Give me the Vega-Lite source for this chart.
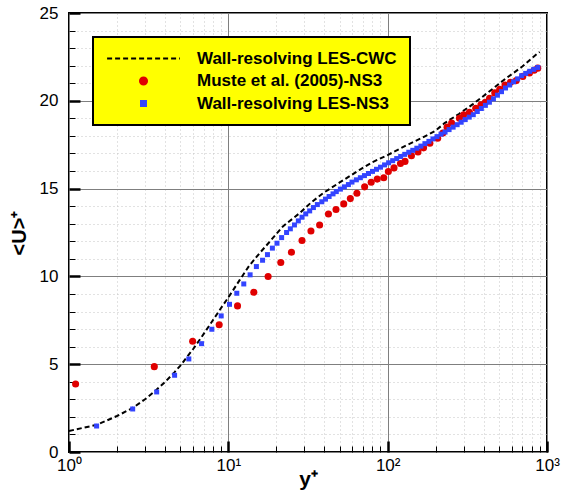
{
  "$schema": "https://vega.github.io/schema/vega-lite/v6.json",
  "width": 478,
  "height": 439,
  "autosize": {"type": "none"},
  "padding": {"left": 69, "top": 13, "right": 14, "bottom": 41},
  "background": "#ffffff",
  "config": {
    "font": "Liberation Sans",
    "view": {"stroke": "#000000", "strokeWidth": 2},
    "axis": {
      "domain": false,
      "labelFont": "Liberation Sans",
      "labelFontSize": 16,
      "labelColor": "#000000",
      "titleFont": "Liberation Sans",
      "titleFontWeight": "bold",
      "titleColor": "#000000",
      "tickColor": "#000000",
      "gridOpacity": 1
    }
  },
  "datasets": {
    "cwc": [
      {"series": "Wall-resolving LES-CWC", "yp": 1.0, "U": 1.2},
      {"series": "Wall-resolving LES-CWC", "yp": 1.5, "U": 1.55},
      {"series": "Wall-resolving LES-CWC", "yp": 2.0, "U": 2.05},
      {"series": "Wall-resolving LES-CWC", "yp": 2.5, "U": 2.5},
      {"series": "Wall-resolving LES-CWC", "yp": 3.0, "U": 3.0},
      {"series": "Wall-resolving LES-CWC", "yp": 3.5, "U": 3.5},
      {"series": "Wall-resolving LES-CWC", "yp": 4.0, "U": 3.98},
      {"series": "Wall-resolving LES-CWC", "yp": 4.6, "U": 4.55},
      {"series": "Wall-resolving LES-CWC", "yp": 5.0, "U": 4.92},
      {"series": "Wall-resolving LES-CWC", "yp": 5.65, "U": 5.55},
      {"series": "Wall-resolving LES-CWC", "yp": 6.0, "U": 5.85},
      {"series": "Wall-resolving LES-CWC", "yp": 6.8, "U": 6.55},
      {"series": "Wall-resolving LES-CWC", "yp": 8.0, "U": 7.5},
      {"series": "Wall-resolving LES-CWC", "yp": 9.0, "U": 8.2},
      {"series": "Wall-resolving LES-CWC", "yp": 10.0, "U": 8.8},
      {"series": "Wall-resolving LES-CWC", "yp": 11.8, "U": 9.8},
      {"series": "Wall-resolving LES-CWC", "yp": 13.5, "U": 10.6},
      {"series": "Wall-resolving LES-CWC", "yp": 15.8, "U": 11.35},
      {"series": "Wall-resolving LES-CWC", "yp": 18.2, "U": 11.98},
      {"series": "Wall-resolving LES-CWC", "yp": 22.0, "U": 12.85},
      {"series": "Wall-resolving LES-CWC", "yp": 28.0, "U": 13.6},
      {"series": "Wall-resolving LES-CWC", "yp": 33.0, "U": 14.2},
      {"series": "Wall-resolving LES-CWC", "yp": 39.3, "U": 14.74},
      {"series": "Wall-resolving LES-CWC", "yp": 50.0, "U": 15.35},
      {"series": "Wall-resolving LES-CWC", "yp": 66.7, "U": 16.07},
      {"series": "Wall-resolving LES-CWC", "yp": 80.0, "U": 16.5},
      {"series": "Wall-resolving LES-CWC", "yp": 100.5, "U": 16.92},
      {"series": "Wall-resolving LES-CWC", "yp": 130.0, "U": 17.45},
      {"series": "Wall-resolving LES-CWC", "yp": 162.6, "U": 17.87},
      {"series": "Wall-resolving LES-CWC", "yp": 200.0, "U": 18.3},
      {"series": "Wall-resolving LES-CWC", "yp": 227.6, "U": 18.73},
      {"series": "Wall-resolving LES-CWC", "yp": 280.0, "U": 19.25},
      {"series": "Wall-resolving LES-CWC", "yp": 343.0, "U": 19.81},
      {"series": "Wall-resolving LES-CWC", "yp": 430.0, "U": 20.5},
      {"series": "Wall-resolving LES-CWC", "yp": 555.0, "U": 21.29},
      {"series": "Wall-resolving LES-CWC", "yp": 700.0, "U": 21.95},
      {"series": "Wall-resolving LES-CWC", "yp": 863.0, "U": 22.66},
      {"series": "Wall-resolving LES-CWC", "yp": 900.0, "U": 22.78}
    ],
    "muste": [
      {"series": "Muste et al. (2005)-NS3", "yp": 1.10, "U": 3.87},
      {"series": "Muste et al. (2005)-NS3", "yp": 3.43, "U": 4.86},
      {"series": "Muste et al. (2005)-NS3", "yp": 5.97, "U": 6.31},
      {"series": "Muste et al. (2005)-NS3", "yp": 8.76, "U": 7.25},
      {"series": "Muste et al. (2005)-NS3", "yp": 11.42, "U": 8.32},
      {"series": "Muste et al. (2005)-NS3", "yp": 14.45, "U": 9.1},
      {"series": "Muste et al. (2005)-NS3", "yp": 17.77, "U": 9.99},
      {"series": "Muste et al. (2005)-NS3", "yp": 21.34, "U": 10.79},
      {"series": "Muste et al. (2005)-NS3", "yp": 24.9, "U": 11.38},
      {"series": "Muste et al. (2005)-NS3", "yp": 29.0, "U": 12.04},
      {"series": "Muste et al. (2005)-NS3", "yp": 33.0, "U": 12.59},
      {"series": "Muste et al. (2005)-NS3", "yp": 37.4, "U": 12.93},
      {"series": "Muste et al. (2005)-NS3", "yp": 42.5, "U": 13.55},
      {"series": "Muste et al. (2005)-NS3", "yp": 47.4, "U": 13.81},
      {"series": "Muste et al. (2005)-NS3", "yp": 53.0, "U": 14.13},
      {"series": "Muste et al. (2005)-NS3", "yp": 58.3, "U": 14.43},
      {"series": "Muste et al. (2005)-NS3", "yp": 64.1, "U": 14.74},
      {"series": "Muste et al. (2005)-NS3", "yp": 71.7, "U": 15.1},
      {"series": "Muste et al. (2005)-NS3", "yp": 78.8, "U": 15.36},
      {"series": "Muste et al. (2005)-NS3", "yp": 86.0, "U": 15.54},
      {"series": "Muste et al. (2005)-NS3", "yp": 94.5, "U": 15.62},
      {"series": "Muste et al. (2005)-NS3", "yp": 101.0, "U": 15.97},
      {"series": "Muste et al. (2005)-NS3", "yp": 109.6, "U": 16.18},
      {"series": "Muste et al. (2005)-NS3", "yp": 120.3, "U": 16.43},
      {"series": "Muste et al. (2005)-NS3", "yp": 128.5, "U": 16.55},
      {"series": "Muste et al. (2005)-NS3", "yp": 141.0, "U": 16.87},
      {"series": "Muste et al. (2005)-NS3", "yp": 155.0, "U": 17.09},
      {"series": "Muste et al. (2005)-NS3", "yp": 168.0, "U": 17.32},
      {"series": "Muste et al. (2005)-NS3", "yp": 184.0, "U": 17.58},
      {"series": "Muste et al. (2005)-NS3", "yp": 206.0, "U": 17.87},
      {"series": "Muste et al. (2005)-NS3", "yp": 222.0, "U": 18.16},
      {"series": "Muste et al. (2005)-NS3", "yp": 236.0, "U": 18.5},
      {"series": "Muste et al. (2005)-NS3", "yp": 252.0, "U": 18.74},
      {"series": "Muste et al. (2005)-NS3", "yp": 282.0, "U": 19.01},
      {"series": "Muste et al. (2005)-NS3", "yp": 300.0, "U": 19.2},
      {"series": "Muste et al. (2005)-NS3", "yp": 326.0, "U": 19.35},
      {"series": "Muste et al. (2005)-NS3", "yp": 357.0, "U": 19.58},
      {"series": "Muste et al. (2005)-NS3", "yp": 385.0, "U": 19.78},
      {"series": "Muste et al. (2005)-NS3", "yp": 410.0, "U": 19.92},
      {"series": "Muste et al. (2005)-NS3", "yp": 436.0, "U": 20.15},
      {"series": "Muste et al. (2005)-NS3", "yp": 470.0, "U": 20.45},
      {"series": "Muste et al. (2005)-NS3", "yp": 505.0, "U": 20.66},
      {"series": "Muste et al. (2005)-NS3", "yp": 545.0, "U": 20.9},
      {"series": "Muste et al. (2005)-NS3", "yp": 590.0, "U": 21.05},
      {"series": "Muste et al. (2005)-NS3", "yp": 641.0, "U": 21.15},
      {"series": "Muste et al. (2005)-NS3", "yp": 705.0, "U": 21.39},
      {"series": "Muste et al. (2005)-NS3", "yp": 776.0, "U": 21.58},
      {"series": "Muste et al. (2005)-NS3", "yp": 830.0, "U": 21.74},
      {"series": "Muste et al. (2005)-NS3", "yp": 875.0, "U": 21.86}
    ],
    "ns3": [
      {"series": "Wall-resolving LES-NS3", "yp": 1.49, "U": 1.48},
      {"series": "Wall-resolving LES-NS3", "yp": 2.51, "U": 2.45},
      {"series": "Wall-resolving LES-NS3", "yp": 3.55, "U": 3.42},
      {"series": "Wall-resolving LES-NS3", "yp": 4.6, "U": 4.37},
      {"series": "Wall-resolving LES-NS3", "yp": 5.65, "U": 5.3},
      {"series": "Wall-resolving LES-NS3", "yp": 6.79, "U": 6.17},
      {"series": "Wall-resolving LES-NS3", "yp": 7.88, "U": 6.99},
      {"series": "Wall-resolving LES-NS3", "yp": 9.02, "U": 7.75},
      {"series": "Wall-resolving LES-NS3", "yp": 10.17, "U": 8.41},
      {"series": "Wall-resolving LES-NS3", "yp": 11.3, "U": 9.04},
      {"series": "Wall-resolving LES-NS3", "yp": 12.5, "U": 9.57},
      {"series": "Wall-resolving LES-NS3", "yp": 13.7, "U": 10.09},
      {"series": "Wall-resolving LES-NS3", "yp": 15.0, "U": 10.56},
      {"series": "Wall-resolving LES-NS3", "yp": 16.4, "U": 10.92},
      {"series": "Wall-resolving LES-NS3", "yp": 17.6, "U": 11.24},
      {"series": "Wall-resolving LES-NS3", "yp": 18.9, "U": 11.61},
      {"series": "Wall-resolving LES-NS3", "yp": 20.2, "U": 11.89},
      {"series": "Wall-resolving LES-NS3", "yp": 21.6, "U": 12.21},
      {"series": "Wall-resolving LES-NS3", "yp": 23.2, "U": 12.5},
      {"series": "Wall-resolving LES-NS3", "yp": 24.5, "U": 12.71},
      {"series": "Wall-resolving LES-NS3", "yp": 26.0, "U": 12.93},
      {"series": "Wall-resolving LES-NS3", "yp": 27.5, "U": 13.16},
      {"series": "Wall-resolving LES-NS3", "yp": 29.0, "U": 13.37},
      {"series": "Wall-resolving LES-NS3", "yp": 30.6, "U": 13.56},
      {"series": "Wall-resolving LES-NS3", "yp": 32.4, "U": 13.73},
      {"series": "Wall-resolving LES-NS3", "yp": 34.2, "U": 13.92},
      {"series": "Wall-resolving LES-NS3", "yp": 36.2, "U": 14.09},
      {"series": "Wall-resolving LES-NS3", "yp": 38.6, "U": 14.25},
      {"series": "Wall-resolving LES-NS3", "yp": 40.7, "U": 14.4},
      {"series": "Wall-resolving LES-NS3", "yp": 42.9, "U": 14.55},
      {"series": "Wall-resolving LES-NS3", "yp": 45.4, "U": 14.7},
      {"series": "Wall-resolving LES-NS3", "yp": 47.6, "U": 14.83},
      {"series": "Wall-resolving LES-NS3", "yp": 50.5, "U": 14.97},
      {"series": "Wall-resolving LES-NS3", "yp": 53.5, "U": 15.1},
      {"series": "Wall-resolving LES-NS3", "yp": 56.7, "U": 15.23},
      {"series": "Wall-resolving LES-NS3", "yp": 59.7, "U": 15.37},
      {"series": "Wall-resolving LES-NS3", "yp": 63.6, "U": 15.5},
      {"series": "Wall-resolving LES-NS3", "yp": 67.4, "U": 15.62},
      {"series": "Wall-resolving LES-NS3", "yp": 71.5, "U": 15.74},
      {"series": "Wall-resolving LES-NS3", "yp": 75.8, "U": 15.86},
      {"series": "Wall-resolving LES-NS3", "yp": 80.3, "U": 15.98},
      {"series": "Wall-resolving LES-NS3", "yp": 85.1, "U": 16.1},
      {"series": "Wall-resolving LES-NS3", "yp": 90.2, "U": 16.22},
      {"series": "Wall-resolving LES-NS3", "yp": 95.6, "U": 16.35},
      {"series": "Wall-resolving LES-NS3", "yp": 101.4, "U": 16.47},
      {"series": "Wall-resolving LES-NS3", "yp": 107.5, "U": 16.59},
      {"series": "Wall-resolving LES-NS3", "yp": 113.9, "U": 16.71},
      {"series": "Wall-resolving LES-NS3", "yp": 120.7, "U": 16.83},
      {"series": "Wall-resolving LES-NS3", "yp": 128.0, "U": 16.95},
      {"series": "Wall-resolving LES-NS3", "yp": 135.7, "U": 17.07},
      {"series": "Wall-resolving LES-NS3", "yp": 143.8, "U": 17.18},
      {"series": "Wall-resolving LES-NS3", "yp": 152.4, "U": 17.3},
      {"series": "Wall-resolving LES-NS3", "yp": 161.6, "U": 17.42},
      {"series": "Wall-resolving LES-NS3", "yp": 171.3, "U": 17.56},
      {"series": "Wall-resolving LES-NS3", "yp": 181.5, "U": 17.69},
      {"series": "Wall-resolving LES-NS3", "yp": 192.4, "U": 17.83},
      {"series": "Wall-resolving LES-NS3", "yp": 204.0, "U": 17.96},
      {"series": "Wall-resolving LES-NS3", "yp": 216.2, "U": 18.1},
      {"series": "Wall-resolving LES-NS3", "yp": 229.2, "U": 18.22},
      {"series": "Wall-resolving LES-NS3", "yp": 242.9, "U": 18.36},
      {"series": "Wall-resolving LES-NS3", "yp": 257.5, "U": 18.5},
      {"series": "Wall-resolving LES-NS3", "yp": 272.9, "U": 18.64},
      {"series": "Wall-resolving LES-NS3", "yp": 289.3, "U": 18.78},
      {"series": "Wall-resolving LES-NS3", "yp": 306.7, "U": 18.93},
      {"series": "Wall-resolving LES-NS3", "yp": 325.1, "U": 19.07},
      {"series": "Wall-resolving LES-NS3", "yp": 344.6, "U": 19.21},
      {"series": "Wall-resolving LES-NS3", "yp": 365.2, "U": 19.39},
      {"series": "Wall-resolving LES-NS3", "yp": 387.1, "U": 19.56},
      {"series": "Wall-resolving LES-NS3", "yp": 410.4, "U": 19.74},
      {"series": "Wall-resolving LES-NS3", "yp": 435.0, "U": 19.92},
      {"series": "Wall-resolving LES-NS3", "yp": 461.1, "U": 20.11},
      {"series": "Wall-resolving LES-NS3", "yp": 488.7, "U": 20.32},
      {"series": "Wall-resolving LES-NS3", "yp": 518.1, "U": 20.52},
      {"series": "Wall-resolving LES-NS3", "yp": 549.1, "U": 20.73},
      {"series": "Wall-resolving LES-NS3", "yp": 582.1, "U": 20.9},
      {"series": "Wall-resolving LES-NS3", "yp": 617.0, "U": 21.08},
      {"series": "Wall-resolving LES-NS3", "yp": 654.0, "U": 21.25},
      {"series": "Wall-resolving LES-NS3", "yp": 693.3, "U": 21.43},
      {"series": "Wall-resolving LES-NS3", "yp": 735.0, "U": 21.56},
      {"series": "Wall-resolving LES-NS3", "yp": 779.1, "U": 21.68},
      {"series": "Wall-resolving LES-NS3", "yp": 825.9, "U": 21.79},
      {"series": "Wall-resolving LES-NS3", "yp": 875.4, "U": 21.9}
    ]
  },
  "encoding": {
    "x": {
      "field": "yp",
      "type": "quantitative",
      "scale": {"type": "log", "domain": [1, 1000], "nice": false},
      "axis": {
        "title": "y⁺",
        "titleFontSize": 21,
        "titlePadding": -10,
        "values": [1, 2, 3, 4, 5, 6, 7, 8, 9, 10, 20, 30, 40, 50, 60, 70, 80, 90, 100, 200, 300, 400, 500, 600, 700, 800, 900, 1000],
        "labelExpr": "datum.value == 1 ? '10⁰' : datum.value == 10 ? '10¹' : datum.value == 100 ? '10²' : datum.value == 1000 ? '10³' : ''",
        "labelPadding": 16,
        "labelFontSize": 17,
        "labelFlush": false,
        "labelOverlap": false,
        "grid": true,
        "gridColor": {"condition": {"test": "indexof([1, 10, 100, 1000], datum.value) >= 0", "value": "#7f7f7f"}, "value": "#c4c4c4"},
        "gridDash": {"condition": {"test": "indexof([1, 10, 100, 1000], datum.value) >= 0", "value": []}, "value": [1, 3]},
        "gridWidth": 1,
        "tickSize": {"condition": {"test": "indexof([1, 10, 100, 1000], datum.value) >= 0", "value": -11}, "value": -6},
        "tickWidth": {"condition": {"test": "indexof([1, 10, 100, 1000], datum.value) >= 0", "value": 2.5}, "value": 1}
      }
    },
    "y": {
      "field": "U",
      "type": "quantitative",
      "scale": {"domain": [0, 25], "nice": false, "zero": false},
      "axis": {
        "title": "<U>⁺",
        "titleFontSize": 20,
        "titlePadding": 10,
        "values": [0, 1, 2, 3, 4, 5, 6, 7, 8, 9, 10, 11, 12, 13, 14, 15, 16, 17, 18, 19, 20, 21, 22, 23, 24, 25],
        "labelExpr": "datum.value % 5 == 0 ? datum.label : ''",
        "labelPadding": 22,
        "labelFontSize": 17,
        "labelFlush": false,
        "labelOverlap": false,
        "grid": true,
        "gridColor": {"condition": {"test": "datum.value % 5 == 0", "value": "#7f7f7f"}, "value": "#c4c4c4"},
        "gridDash": {"condition": {"test": "datum.value % 5 == 0", "value": []}, "value": [1, 3]},
        "gridWidth": 1,
        "tickSize": {"condition": {"test": "datum.value % 5 == 0", "value": -11}, "value": -6},
        "tickWidth": {"condition": {"test": "datum.value % 5 == 0", "value": 2.5}, "value": 1}
      }
    },
    "color": {
      "field": "series",
      "type": "nominal",
      "scale": {
        "domain": ["Wall-resolving LES-CWC", "Muste et al. (2005)-NS3", "Wall-resolving LES-NS3"],
        "range": ["#000000", "#e00000", "#3344ff"]
      },
      "legend": {
        "orient": "none",
        "legendX": 24,
        "legendY": 24,
        "title": null,
        "fillColor": "#ffff00",
        "strokeColor": "#000000",
        "padding": 13,
        "symbolSize": 64,
        "symbolOffset": 29,
        "labelOffset": 45,
        "labelFont": "Liberation Sans",
        "labelFontSize": 17,
        "labelFontWeight": "bold",
        "labelColor": "#000000",
        "labelLimit": 0,
        "rowPadding": 4.5,
        "encode": {
          "legend": {"update": {"strokeWidth": {"value": 2}}},
          "symbols": {
            "update": {
              "shape": {"signal": "datum.value === 'Wall-resolving LES-CWC' ? 'stroke' : datum.value === 'Muste et al. (2005)-NS3' ? 'circle' : 'square'"},
              "size": {"signal": "datum.value === 'Wall-resolving LES-CWC' ? 5300 : datum.value === 'Muste et al. (2005)-NS3' ? 50 : 25"},
              "fill": {"signal": "datum.value === 'Wall-resolving LES-CWC' ? 'transparent' : scale('color', datum.value)"},
              "stroke": {"signal": "datum.value === 'Wall-resolving LES-CWC' ? '#000000' : 'transparent'"},
              "strokeWidth": {"value": 2},
              "strokeDash": {"signal": "datum.value === 'Wall-resolving LES-CWC' ? [5, 3] : []"},
              "opacity": {"value": 1}
            }
          }
        }
      }
    }
  },
  "layer": [
    {
      "data": {"name": "cwc"},
      "mark": {"type": "line", "strokeDash": [5, 3], "strokeWidth": 2}
    },
    {
      "data": {"name": "muste"},
      "mark": {"type": "point", "shape": "circle", "filled": true, "size": 50, "opacity": 1}
    },
    {
      "data": {"name": "ns3"},
      "mark": {"type": "point", "shape": "square", "filled": true, "size": 25, "opacity": 1}
    }
  ]
}
